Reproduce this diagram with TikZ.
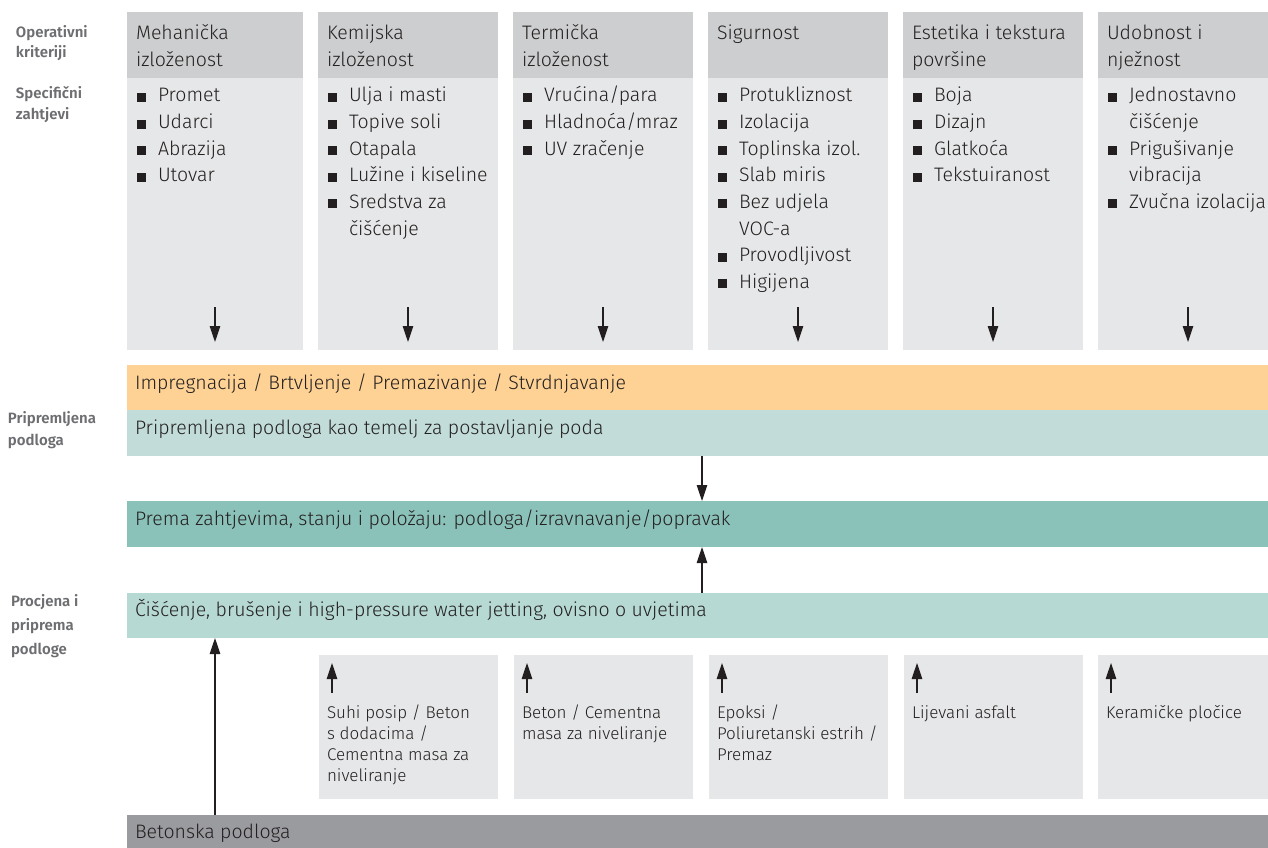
\documentclass[tikz,border=0pt]{standalone}
\usepackage{fontspec}
\setmainfont{Fira Sans Light}[BoldFont={Fira Sans SemiBold}]
\usetikzlibrary{arrows.meta,calc}
\definecolor{hgray}{HTML}{CDCECF}
\definecolor{bgray}{HTML}{E6E7E8}
\definecolor{orng}{HTML}{FED294}
\definecolor{tealL}{HTML}{C2DDD9}
\definecolor{tealM}{HTML}{B6D9D3}
\definecolor{tealD}{HTML}{8AC2BA}
\definecolor{dgray}{HTML}{9A9B9F}
\definecolor{ink}{HTML}{231F20}
\definecolor{lab}{HTML}{6D6E71}
\newcommand\bulsq{\rule{9pt}{9pt}\hspace{12pt}}
\newcommand\contsq{\hspace*{21pt}}
\begin{document}
\begin{tikzpicture}[x=1pt,y=-1pt,
  rbox/.style={draw=none,inner sep=0,outer sep=0,anchor=north west},
  txt/.style={anchor=base west,inner sep=0,outer sep=0,text=ink,font=\fontsize{19.5}{19.5}\selectfont},
  stxt/.style={anchor=base west,inner sep=0,outer sep=0,text=ink,font=\fontsize{17}{17}\selectfont},
  lbl/.style={anchor=base west,inner sep=0,outer sep=0,text=lab,font=\bfseries\fontsize{15}{15}\selectfont},
  arr/.style={line width=1.1pt,draw=ink,-{Triangle[length=16pt,width=10.5pt]}},
]
\useasboundingbox (0,0) rectangle (1268,848);
\fill[white] (0,0) rectangle (1268,848);

% left labels
\node[lbl] (l1) at (16,37.5) {Operativni};
\node[lbl] (l2) at (16,57.5) {kriteriji};
\node[lbl] (l3) at (16,99) {Specifični};
\node[lbl] (l4) at (16,120) {zahtjevi};
\node[lbl] (l5) at (8,423) {Pripremljena};
\node[lbl] (l6) at (8,445.5) {podloga};
\node[lbl] (l7) at (11,606.5) {Procjena i};
\node[lbl] (l8) at (11,630.5) {priprema};
\node[lbl] (l9) at (11,654) {podloge};

% columns
\foreach \i/\x/\w in {1/127/176,2/318/180,3/513/180,4/708/180,5/903/180,6/1098/180}{
  \node[rbox,fill=hgray,minimum width=\w pt,minimum height=66pt] (h\i) at (\x,12) {};
  \node[rbox,fill=bgray,minimum width=\w pt,minimum height=272pt] (b\i) at (\x,78) {};
  \coordinate (as\i) at ($(b\i.south)+(0,-43)$);
  \coordinate (ae\i) at ($(b\i.south)+(0,-8)$);
  \draw[arr] (as\i) -- (ae\i);
}

% headers
\node[txt] (hd1a) at (136,40) {Mehanička};
\node[txt] (hd1b) at (136,67) {izloženost};
\node[txt] (hd2a) at (327,40) {Kemijska};
\node[txt] (hd2b) at (327,67) {izloženost};
\node[txt] (hd3a) at (522,40) {Termička};
\node[txt] (hd3b) at (522,67) {izloženost};
\node[txt] (hd4a) at (717,40) {Sigurnost};
\node[txt] (hd5a) at (912,40) {Estetika i tekstura};
\node[txt] (hd5b) at (912,67) {površine};
\node[txt] (hd6a) at (1107,40) {Udobnost i};
\node[txt] (hd6b) at (1107,67) {nježnost};

% items
\foreach \t [count=\k from 0] in {{\bulsq Promet},{\bulsq Udarci},{\bulsq Abrazija},{\bulsq Utovar}}
  \node[txt] (ia\k) at (137,102+26.6*\k) {\t};
\foreach \t [count=\k from 0] in {{\bulsq Ulja i masti},{\bulsq Topive soli},{\bulsq Otapala},{\bulsq Lužine i kiseline},{\bulsq Sredstva za},{\contsq čišćenje}}
  \node[txt] (ib\k) at (328,102+26.6*\k) {\t};
\foreach \t [count=\k from 0] in {{\bulsq Vrućina/para},{\bulsq Hladnoća/mraz},{\bulsq UV zračenje}}
  \node[txt] (ic\k) at (523,102+26.6*\k) {\t};
\foreach \t [count=\k from 0] in {{\bulsq Protukliznost},{\bulsq Izolacija},{\bulsq Toplinska izol.},{\bulsq Slab miris},{\bulsq Bez udjela},{\contsq VOC-a},{\bulsq Provodljivost},{\bulsq Higijena}}
  \node[txt] (id\k) at (718,102+26.6*\k) {\t};
\foreach \t [count=\k from 0] in {{\bulsq Boja},{\bulsq Dizajn},{\bulsq Glatkoća},{\bulsq Tekstuiranost}}
  \node[txt] (ie\k) at (913,102+26.6*\k) {\t};
\foreach \t [count=\k from 0] in {{\bulsq Jednostavno},{\contsq čišćenje},{\bulsq Prigušivanje},{\contsq vibracija},{\bulsq Zvučna izolacija}}
  \node[txt] (if\k) at (1108,102+26.6*\k) {\t};

% bands
\node[rbox,fill=orng,minimum width=1141pt,minimum height=45pt] (impr) at (127,365) {};
\node[rbox,fill=tealL,minimum width=1141pt,minimum height=46pt] (prip) at (127,410) {};
\node[rbox,fill=tealD,minimum width=1141pt,minimum height=46pt] (prema) at (127,501) {};
\node[rbox,fill=tealM,minimum width=1141pt,minimum height=45pt] (cisc) at (127,593) {};
\node[rbox,fill=dgray,minimum width=1141pt,minimum height=33pt] (beton) at (127,815) {};

\node[txt] (timpr) at (135,389) {Impregnacija / Brtvljenje / Premazivanje / Stvrdnjavanje};
\node[txt] (tprip) at (135,434) {Pripremljena podloga kao temelj za postavljanje poda};
\node[txt] (tprema) at (135,525) {Prema zahtjevima, stanju i položaju: podloga/izravnavanje/popravak};
\node[txt] (tcisc) at (135,616) {Čišćenje, brušenje i high-pressure water jetting, ovisno o uvjetima};
\node[txt] (tbeton) at (135,838.5) {Betonska podloga};

\coordinate (ax) at (702,0);
\coordinate (bx) at (215,0);
\draw[arr] (prip.south -| ax) -- (prema.north -| ax);
\draw[arr] (cisc.north -| ax) -- (prema.south -| ax);
\draw[arr] (beton.north -| bx) -- (cisc.south -| bx);

% bottom boxes
\foreach \i/\x/\w in {1/319/179,2/514/179,3/709/179,4/904/179,5/1098/180}{
  \node[rbox,fill=bgray,minimum width=\w pt,minimum height=144pt] (m\i) at (\x,655) {};
  \coordinate (ms\i) at ($(m\i.north west)+(13,38)$);
  \coordinate (me\i) at ($(m\i.north west)+(13,8)$);
  \draw[arr] (ms\i) -- (me\i);
}
\foreach \t [count=\k from 0] in {{Suhi posip / Beton},{s dodacima /},{Cementna masa za},{niveliranje}}
  \node[stxt] (ma\k) at (327,718+21.3*\k) {\t};
\foreach \t [count=\k from 0] in {{Beton / Cementna},{masa za niveliranje}}
  \node[stxt] (mb\k) at (522,718+21.3*\k) {\t};
\foreach \t [count=\k from 0] in {{Epoksi /},{Poliuretanski estrih /},{Premaz}}
  \node[stxt] (mc\k) at (717,718+21.3*\k) {\t};
\node[stxt] (md0) at (912,718) {Lijevani asfalt};
\node[stxt] (me0) at (1106,718) {Keramičke pločice};
\end{tikzpicture}
\end{document}
